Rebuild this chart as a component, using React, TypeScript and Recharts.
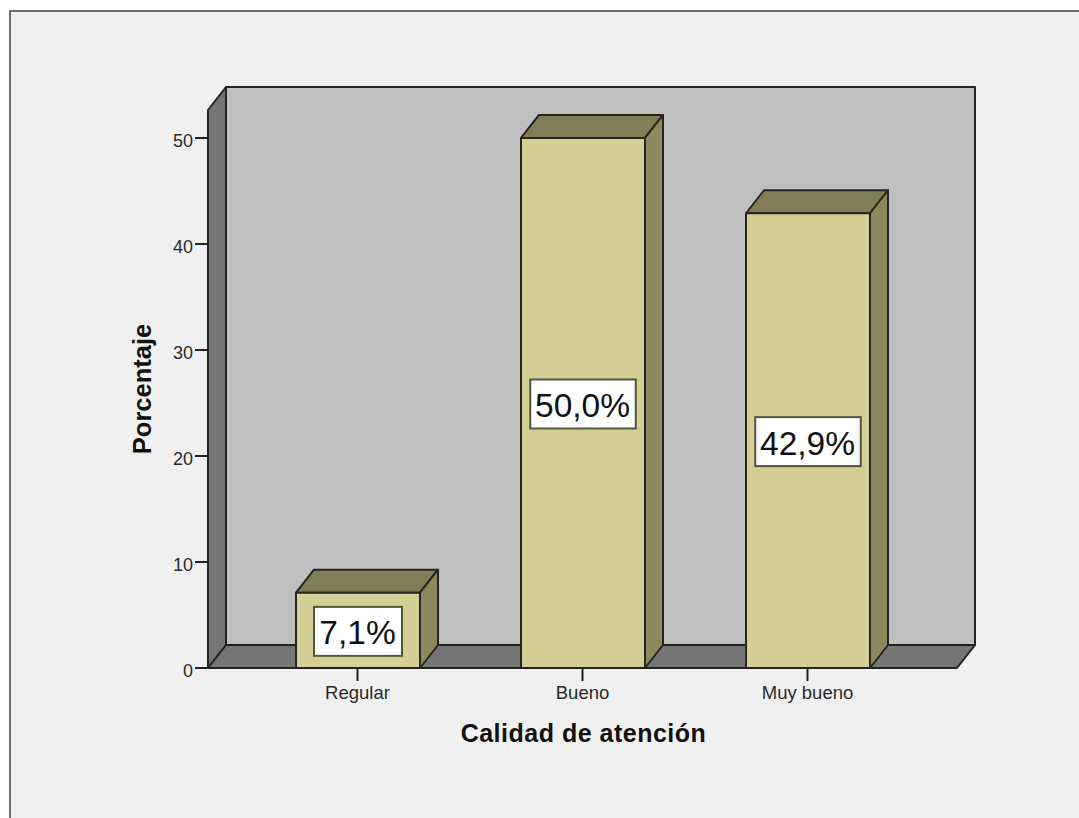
import React from 'react';
import {
  Bar,
  BarChart,
  LabelList,
  Label,
  XAxis,
  YAxis,
  usePlotArea
} from 'recharts';

const categories = ['Regular', 'Bueno', 'Muy bueno'];
const percentages = [7.1, 50.0, 42.9];
const valueLabels = ['7,1%', '50,0%', '42,9%'];
const yTicks = [0, 10, 20, 30, 40, 50];

const data = categories.map((name, i) => ({
  name,
  value: percentages[i],
  label: valueLabels[i]
}));

const FONT = '"Liberation Sans", Arial, sans-serif';
const EDGE = '#26261c';
const DEPTH_X = 18;
const DEPTH_Y = 23;

// back wall, left wall and floor of the 3D box
const Walls = () => {
  const area = usePlotArea();
  if (!area) return null;
  const { x, y, width, height } = area;
  const left = x;
  const right = x + width;
  const top = y;
  const bottom = y + height;
  const pts = (list: number[][]) => list.map(p => p.join(',')).join(' ');
  return (
    <g stroke="#222222" strokeWidth={2} strokeLinejoin="round">
      <rect
        x={left + DEPTH_X}
        y={top - DEPTH_Y}
        width={width}
        height={height}
        fill="#bfbfbf"
      />
      <polygon
        points={pts([
          [left, top],
          [left + DEPTH_X, top - DEPTH_Y],
          [left + DEPTH_X, bottom - DEPTH_Y],
          [left, bottom]
        ])}
        fill="#757575"
      />
      <polygon
        points={pts([
          [left, bottom],
          [left + DEPTH_X, bottom - DEPTH_Y],
          [right + DEPTH_X, bottom - DEPTH_Y],
          [right, bottom]
        ])}
        fill="#757575"
      />
    </g>
  );
};

const Bar3D = (props: any) => {
  const { x, y, width, height } = props;
  const r = x + width;
  const b = y + height;
  return (
    <g stroke={EDGE} strokeWidth={2} strokeLinejoin="round">
      <polygon
        points={`${x},${y} ${x + DEPTH_X},${y - DEPTH_Y} ${r + DEPTH_X},${y - DEPTH_Y} ${r},${y}`}
        fill="#807d57"
      />
      <polygon
        points={`${r},${y} ${r + DEPTH_X},${y - DEPTH_Y} ${r + DEPTH_X},${b - DEPTH_Y} ${r},${b}`}
        fill="#8d895f"
      />
      <rect x={x} y={y} width={width} height={height} fill="#d3cf96" />
    </g>
  );
};

const BoxLabel = (props: any) => {
  const { x, y, width, height, value } = props;
  const cx = x + width / 2;
  const cy = y + height / 2 + 1;
  const boxW = String(value).length * 17.5 + 18;
  const boxH = 49;
  return (
    <g>
      <rect
        x={cx - boxW / 2}
        y={cy - boxH / 2}
        width={boxW}
        height={boxH}
        fill="#ffffff"
        stroke="#55553c"
        strokeWidth={2}
      />
      <text
        x={cx - 0.5}
        y={cy + 13}
        textAnchor="middle"
        fontFamily={FONT}
        fontSize={33.5}
        fill="#111111"
      >
        {value}
      </text>
    </g>
  );
};

export default function App() {
  return (
    <div
      style={{
        position: 'absolute',
        left: 0,
        top: 0,
        width: 1079,
        height: 818,
        background: '#ffffff',
        overflow: 'hidden'
      }}
    >
      <div
        style={{
          position: 'absolute',
          left: 9,
          top: 10,
          width: 1079,
          height: 818,
          background: '#f0f0f0',
          borderLeft: '2px solid #6e6e6e',
          borderTop: '2px solid #6e6e6e'
        }}
      />
      <div style={{ position: 'absolute', left: 0, top: 0 }}>
        <BarChart
          width={1079}
          height={818}
          data={data}
          margin={{ top: 110, right: 122, bottom: 0, left: 148 }}
          style={{ fontFamily: FONT }}
        >
          <Walls />
          <XAxis
            dataKey="name"
            padding={{ left: 37, right: 37 }}
            height={150}
            tickSize={13}
            tickMargin={5}
            stroke="#222222"
            strokeWidth={2}
            tick={{ fill: '#2a2a2a', fontSize: 18.5, fontFamily: FONT }}
          >
            <Label
              value="Calidad de atención"
              position="insideTop"
              offset={56}
              dx={1}
              fill="#111111"
              style={{ fontSize: 25, fontWeight: 700, fontFamily: FONT, letterSpacing: 0.5 }}
            />
          </XAxis>
          <YAxis
            domain={[0, 52.64]}
            ticks={yTicks}
            width={60}
            tickSize={13}
            tickMargin={2}
            stroke="#222222"
            strokeWidth={2}
            tick={{ fill: '#2a2a2a', fontSize: 18, fontFamily: FONT, dy: 3 }}
          >
            <Label
              value="Porcentaje"
              angle={-90}
              position="insideLeft"
              offset={-6}
              fill="#111111"
              style={{ fontSize: 25.5, fontWeight: 700, fontFamily: FONT, textAnchor: 'middle' }}
            />
          </YAxis>
          <Bar dataKey="value" barSize={124} shape={Bar3D} isAnimationActive={false}>
            <LabelList dataKey="label" content={BoxLabel} />
          </Bar>
        </BarChart>
      </div>
    </div>
  );
}
